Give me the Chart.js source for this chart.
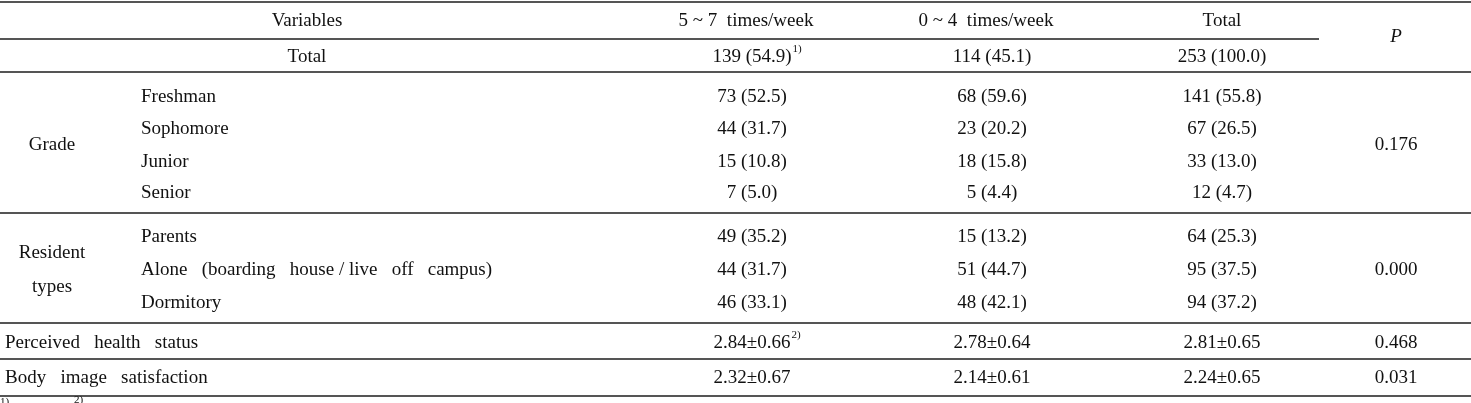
<!DOCTYPE html>
<html><head><meta charset="utf-8">
<script src="https://cdn.jsdelivr.net/npm/chart.js@4"></script>
<style>html,body{margin:0;padding:0;background:#fff}#w{width:1471px;height:403px}</style>
</head><body><div id="w"><canvas id="c"></canvas></div>
<script>
const headers = ["Variables", "5 ~ 7  times/week", "0 ~ 4  times/week", "Total", "P"];
const rowLabels = ["Freshman","Sophomore","Junior","Senior","Parents","Alone   (boarding   house / live   off   campus)","Dormitory"];
const groupLabels = ["Grade", "Resident", "types"];
const totalRow = ["Total", "139 (54.9)", "114 (45.1)", "253 (100.0)"];
const col57 = ["73 (52.5)","44 (31.7)","15 (10.8)","7 (5.0)","49 (35.2)","44 (31.7)","46 (33.1)"];
const col04 = ["68 (59.6)","23 (20.2)","18 (15.8)","5 (4.4)","15 (13.2)","51 (44.7)","48 (42.1)"];
const colTotal = ["141 (55.8)","67 (26.5)","33 (13.0)","12 (4.7)","64 (25.3)","95 (37.5)","94 (37.2)"];
const pValues = ["0.176","0.000","0.468","0.031"];
const scoreLabels = ["Perceived   health   status","Body   image   satisfaction"];
const score57 = ["2.84\u00B10.66","2.32\u00B10.67"];
const score04 = ["2.78\u00B10.64","2.14\u00B10.61"];
const scoreTotal = ["2.81\u00B10.65","2.24\u00B10.65"];

const colX = [307, 752, 992, 1222, 1396];
const rowY = [97,129,162,193,237,270,303];
const F = "19px 'Liberation Serif', 'DejaVu Serif', serif";

const tablePlugin = {
  id:'table',
  afterDraw(chart){
    const ctx = chart.ctx, xs = chart.scales.x, ys = chart.scales.y;
    const X = v=>xs.getPixelForValue(v), Y = v=>ys.getPixelForValue(v);
    ctx.save();
    ctx.strokeStyle = '#555'; ctx.lineWidth = 2;
    const hl = (y,x0,x1)=>{ctx.beginPath();ctx.moveTo(X(x0),Y(y));ctx.lineTo(X(x1),Y(y));ctx.stroke();};
    hl(2,0,1471); hl(39,0,1319); hl(72,0,1471); hl(213,0,1471); hl(323,0,1471); hl(359,0,1471); hl(396,0,1471);
    ctx.fillStyle = '#111'; ctx.font = F; ctx.textBaseline = 'middle';
    const t = (s,x,y,a)=>{ctx.textAlign=a||'center'; ctx.fillText(s,X(x),Y(y));};
    t(headers[0],colX[0],21); t(headers[1],colX[1]-6,21); t(headers[2],colX[2]-6,21); t(headers[3],colX[3],21);
    ctx.font = "italic " + F; t(headers[4],colX[4],37); ctx.font = F;
    t(totalRow[0],colX[0],57); t(totalRow[1],colX[1],57); t(totalRow[2],colX[2],57); t(totalRow[3],colX[3],57);
    const sup = (s,x,y)=>{ctx.font="11px 'Liberation Serif', serif"; ctx.textAlign='left'; ctx.fillText(s,X(x),Y(y)); ctx.font=F;};
    const w1 = ctx.measureText(totalRow[1]).width; sup("1)", colX[1]+w1/2+1, 49);
    for(let i=0;i<rowLabels.length;i++){
      t(rowLabels[i],141,rowY[i],'left');
      t(col57[i],colX[1],rowY[i]); t(col04[i],colX[2],rowY[i]); t(colTotal[i],colX[3],rowY[i]);
    }
    t(groupLabels[0],52,145); t(groupLabels[1],52,253); t(groupLabels[2],52,287);
    t(pValues[0],colX[4],145); t(pValues[1],colX[4],270);
    const sy=[343,378];
    for(let i=0;i<2;i++){
      t(scoreLabels[i],5,sy[i],'left');
      t(score57[i],colX[1],sy[i]); t(score04[i],colX[2],sy[i]); t(scoreTotal[i],colX[3],sy[i]);
      t(pValues[2+i],colX[4],sy[i]);
    }
    const w2 = ctx.measureText(score57[0]).width; sup("2)", colX[1]+w2/2+1, 335);
    sup("1)",0,402); sup("2)",74,400);
    ctx.restore();
  }
};

new Chart(document.getElementById('c'),{
  type:'scatter',
  data:{datasets:[{data:[]}]},
  options:{
    responsive:true, maintainAspectRatio:false, animation:false,
    layout:{padding:0},
    plugins:{legend:{display:false},tooltip:{enabled:false}},
    scales:{
      x:{type:'linear',min:0,max:1471,display:false},
      y:{type:'linear',min:0,max:403,reverse:true,display:false}
    }
  },
  plugins:[tablePlugin]
});
</script></body></html>
